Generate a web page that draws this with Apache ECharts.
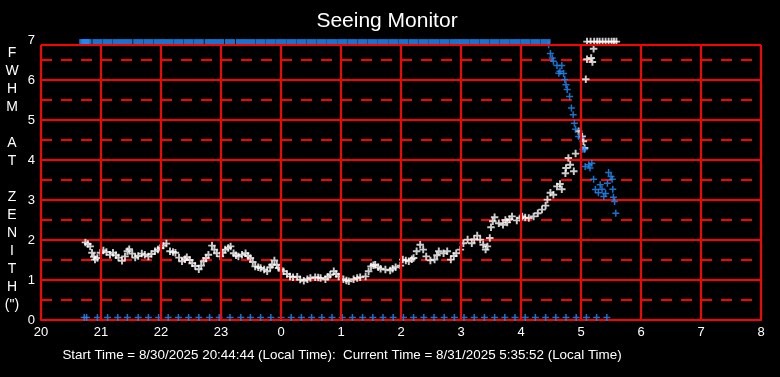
<!DOCTYPE html>
<html>
<head>
<meta charset="utf-8">
<title>Seeing Monitor</title>
<script src="https://cdn.jsdelivr.net/npm/echarts@6/dist/echarts.min.js"></script>
<style>
  html, body { margin: 0; padding: 0; background: #000; }
  #myChart { width: 780px; height: 377px; }
</style>
</head>
<body>
<div id="myChart"></div>
<script>
// x values are local hours, counted past midnight as 24, 25, ...
const xTicks = [20, 21, 22, 23, 24, 25, 26, 27, 28, 29, 30, 31, 32]
const yTicks = [0, 1, 2, 3, 4, 5, 6, 7]
const plotTop = 6.875 // where the red frame closes, a little under 7

// seeing (white +)
const seeingHours = [
  20.74, 20.78, 20.82, 20.85, 20.88, 20.90, 20.94, 20.99, 21.04, 21.09,
  21.15, 21.20, 21.25, 21.29, 21.35, 21.40, 21.44, 21.47, 21.52, 21.57,
  21.62, 21.68, 21.73, 21.79, 21.84, 21.90, 21.95, 21.99, 22.04, 22.09,
  22.15, 22.20, 22.24, 22.30, 22.35, 22.40, 22.43, 22.48, 22.52, 22.57,
  22.63, 22.67, 22.71, 22.75, 22.79, 22.85, 22.89, 22.93, 22.99, 23.03,
  23.07, 23.12, 23.16, 23.21, 23.25, 23.29, 23.35, 23.41, 23.45, 23.49,
  23.53, 23.57, 23.62, 23.66, 23.72, 23.77, 23.82, 23.85, 23.89, 23.93,
  23.96, 24.00, 24.04, 24.10, 24.15, 24.20, 24.27, 24.32, 24.38, 24.44,
  24.49, 24.57, 24.62, 24.66, 24.74, 24.78, 24.82, 24.88, 24.92, 24.96,
  25.04, 25.09, 25.13, 25.21, 25.27, 25.32, 25.41, 25.46, 25.50, 25.54,
  25.57, 25.62, 25.66, 25.74, 25.82, 25.86, 25.91, 25.99, 26.03, 26.08,
  26.13, 26.18, 26.21, 26.26, 26.32, 26.37, 26.42, 26.49, 26.56, 26.60,
  26.63, 26.71, 26.77, 26.83, 26.88, 26.92, 26.99, 27.04, 27.11, 27.18,
  27.22, 27.27, 27.32, 27.37, 27.41, 27.44, 27.48, 27.50, 27.53, 27.56,
  27.63, 27.70, 27.74, 27.77, 27.81, 27.85, 27.93, 27.99, 28.02, 28.07,
  28.13, 28.21, 28.28, 28.35, 28.41, 28.44, 28.49, 28.54, 28.60, 28.65,
  28.68, 28.74, 28.75, 28.79, 28.82, 28.88, 28.91, 28.96, 29.02, 29.04,
  29.06, 29.08, 29.10, 29.17, 29.19, 29.21
]
const seeingValues = [
  1.94, 1.90, 1.84, 1.68, 1.58, 1.51, 1.55, 1.68, 1.74, 1.70,
  1.63, 1.68, 1.62, 1.56, 1.48, 1.59, 1.72, 1.77, 1.66, 1.56,
  1.60, 1.66, 1.63, 1.59, 1.65, 1.72, 1.76, 1.80, 1.86, 1.91,
  1.72, 1.70, 1.68, 1.56, 1.47, 1.52, 1.57, 1.50, 1.42, 1.35,
  1.27, 1.36, 1.47, 1.55, 1.63, 1.86, 1.76, 1.67, 1.59, 1.68,
  1.76, 1.80, 1.84, 1.67, 1.62, 1.59, 1.63, 1.67, 1.60, 1.55,
  1.45, 1.34, 1.32, 1.30, 1.26, 1.22, 1.32, 1.38, 1.49, 1.38,
  1.30, 1.26, 1.22, 1.15, 1.09, 1.07, 1.08, 1.01, 0.98, 1.02,
  1.05, 1.07, 1.06, 1.05, 1.02, 1.08, 1.13, 1.22, 1.15, 1.09,
  1.02, 0.99, 0.97, 1.02, 1.05, 1.07, 1.09, 1.22, 1.34, 1.37,
  1.38, 1.32, 1.28, 1.26, 1.24, 1.28, 1.32, 1.36, 1.51, 1.49,
  1.47, 1.52, 1.55, 1.72, 1.88, 1.76, 1.59, 1.49, 1.51, 1.62,
  1.72, 1.67, 1.72, 1.51, 1.60, 1.67, 1.76, 1.92, 2.01, 1.92,
  2.02, 2.11, 2.01, 1.88, 1.76, 1.84, 2.05, 2.32, 2.47, 2.57,
  2.42, 2.38, 2.50, 2.44, 2.52, 2.59, 2.49, 2.55, 2.59, 2.56,
  2.55, 2.59, 2.67, 2.76, 2.86, 3.01, 3.18, 3.13, 3.34, 3.40,
  3.27, 3.67, 3.80, 4.05, 3.88, 3.72, 4.16, 4.72, 4.59, 4.47,
  4.30, 6.02, 6.52, 6.55, 6.45, 6.78
]

// white + pinned at the top of the scale
const whiteTopHours = [29.10, 29.16, 29.22, 29.27, 29.31, 29.36, 29.41, 29.46, 29.51, 29.55, 29.59]
const topLevel = 6.96

// blue + in the rising part
const blueHours = [
  28.46, 28.49, 28.52, 28.54, 28.60, 28.63, 28.65, 28.68, 28.71, 28.73,
  28.75, 28.77, 28.81, 28.84, 28.87, 28.89, 28.91, 28.96, 29.00, 29.03,
  29.06, 29.07, 29.13, 29.15, 29.18, 29.21, 29.24, 29.29, 29.32, 29.35,
  29.38, 29.41, 29.44, 29.46, 29.50, 29.52, 29.53, 29.54, 29.56, 29.58
]
const blueValues = [
  6.88, 6.66, 6.55, 6.47, 6.36, 6.17, 6.22, 6.36, 6.16, 6.01,
  5.88, 5.76, 5.59, 5.30, 5.13, 4.92, 4.77, 4.59, 4.55, 4.27,
  4.26, 3.84, 3.88, 3.80, 3.92, 3.52, 3.26, 3.18, 3.38, 3.27,
  3.09, 3.16, 3.42, 3.69, 3.59, 3.52, 3.27, 3.07, 2.96, 2.67
]

// blue band along the top (clipped samples)
const blueTopHours = [
  20.72, 20.76, 20.94, 21.11, 21.28, 21.44, 21.62, 21.79, 21.96, 22.12,
  22.29, 22.46, 22.63, 22.81, 22.97, 23.15, 23.33, 23.49, 23.66, 23.83,
  24.00, 24.17, 24.34, 24.51, 24.68, 24.85, 25.02, 25.19, 25.36, 25.53,
  25.70, 25.87, 26.04, 26.21, 26.38, 26.55, 26.72, 26.89, 27.05, 27.22,
  27.39, 27.56, 27.73, 27.90, 28.07, 28.24, 28.41
]

// blue + along the bottom
const blueBottomHours = [
  20.72, 20.76, 20.94, 21.11, 21.28, 21.44, 21.62, 21.79, 21.96, 22.12,
  22.29, 22.46, 22.63, 22.81, 22.97, 23.15, 23.33, 23.49, 23.66, 23.83,
  24.00, 24.17, 24.34, 24.51, 24.68, 24.85, 25.02, 25.19, 25.36, 25.53,
  25.70, 25.87, 26.04, 26.21, 26.38, 26.55, 26.72, 26.89, 27.05, 27.22,
  27.39, 27.56, 27.73, 27.90, 28.07, 28.24, 28.41, 28.58, 28.75, 28.92,
  29.09, 29.26, 29.43
]
const bottomLevel = 0.06

const footer = 'Start Time = 8/30/2025 20:44:44 (Local Time):  Current Time = 8/31/2025 5:35:52 (Local Time)'

const plus = 'path://M2.75,0H4.25V2.75H7V4.25H4.25V7H2.75V4.25H0V2.75H2.75Z'
const plusBold = 'path://M2.6,0H4.4V2.6H7V4.4H4.4V7H2.6V4.4H0V2.6H2.6Z'
const red = '#ff0000'
const blue = '#1e90ff'
const font = 'Liberation Sans, Arial, sans-serif'

function pairs (xs, ys) {
  return xs.map((x, i) => [x, Array.isArray(ys) ? ys[i] : ys])
}

let myChart = echarts.init(document.getElementById('myChart'))

// frame and vertical grid lines stop at plotTop
let frameLines = xTicks.map(h => [{ coord: [h, 0] }, { coord: [h, plotTop] }])
frameLines.push([{ coord: [xTicks[0], plotTop] }, { coord: [xTicks[xTicks.length - 1], plotTop] }])

myChart.setOption({
  backgroundColor: '#000',
  animation: false,
  textStyle: { fontFamily: font },
  grid: { left: 41, right: 19, top: 40, bottom: 57 },
  xAxis: {
    type: 'value',
    min: xTicks[0],
    max: xTicks[xTicks.length - 1],
    interval: 1,
    axisLine: { show: true, lineStyle: { color: red, width: 2 } },
    axisTick: { show: false },
    splitLine: { show: false },
    axisLabel: {
      color: '#fff',
      fontSize: 13,
      margin: 6,
      fontFamily: font,
      formatter: v => String(v % 24)
    }
  },
  yAxis: {
    type: 'value',
    min: yTicks[0],
    max: yTicks[yTicks.length - 1],
    interval: 1,
    axisLine: { show: false },
    axisTick: { show: false },
    axisLabel: { color: '#fff', fontSize: 13, margin: 6, fontFamily: font },
    splitLine: {
      show: true,
      showMinLine: false,
      showMaxLine: false,
      lineStyle: { color: red, width: 2 }
    },
    minorTick: { show: false, splitNumber: 2 },
    minorSplitLine: {
      show: true,
      lineStyle: { color: red, width: 2, type: [11, 9] }
    }
  },
  graphic: [
    {
      type: 'text',
      x: 387,
      y: 21,
      style: {
        text: 'Seeing Monitor',
        fill: '#fff',
        font: '21px ' + font,
        align: 'center',
        verticalAlign: 'middle'
      }
    },
    {
      type: 'text',
      x: 12,
      y: 179,
      style: {
        text: 'F\nW\nH\nM\n \nA\nT\n \nZ\nE\nN\nI\nT\nH\n(")',
        fill: '#fff',
        font: '14px ' + font,
        lineHeight: 18,
        align: 'center',
        verticalAlign: 'middle'
      }
    },
    {
      type: 'text',
      x: 342,
      y: 355,
      style: {
        text: footer,
        fill: '#fff',
        font: '13.4px ' + font,
        align: 'center',
        verticalAlign: 'middle'
      }
    }
  ],
  series: [
    {
      name: 'frame',
      type: 'line',
      data: [],
      silent: true,
      markLine: {
        silent: true,
        symbol: ['none', 'none'],
        label: { show: false },
        lineStyle: { color: red, width: 2, type: 'solid' },
        data: frameLines
      }
    },
    {
      name: 'seeing',
      type: 'scatter',
      symbol: plusBold,
      symbolSize: 7.5,
      itemStyle: { color: '#fff' },
      data: pairs(seeingHours, seeingValues)
    },
    {
      name: 'seeing top',
      type: 'scatter',
      symbol: plusBold,
      symbolSize: 7.5,
      itemStyle: { color: '#fff' },
      data: pairs(whiteTopHours, topLevel)
    },
    {
      name: 'blue top',
      type: 'scatter',
      symbol: 'rect',
      symbolSize: [10, 5],
      itemStyle: { color: blue },
      data: pairs(blueTopHours, topLevel)
    },
    {
      name: 'blue',
      type: 'scatter',
      symbol: plus,
      symbolSize: 7,
      itemStyle: { color: blue },
      data: pairs(blueHours, blueValues)
    },
    {
      name: 'blue bottom',
      type: 'scatter',
      symbol: plus,
      symbolSize: 7,
      itemStyle: { color: blue },
      data: pairs(blueBottomHours, bottomLevel)
    }
  ]
})
</script>
</body>
</html>
